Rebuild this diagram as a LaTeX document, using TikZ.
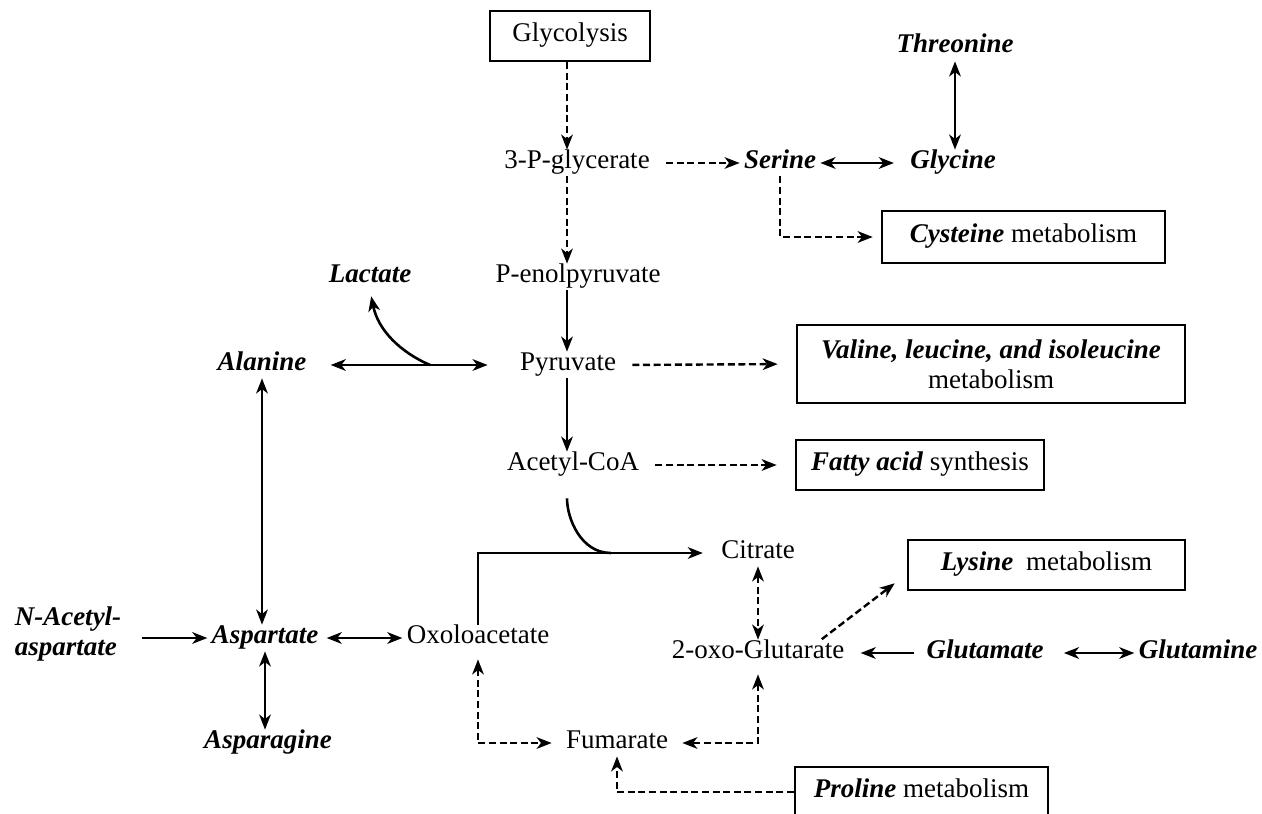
\documentclass[tikz,border=0pt]{standalone}
\usepackage{fontspec}
\setmainfont{Liberation Serif}
\usetikzlibrary{arrows.meta,calc}
\begin{document}
\begin{tikzpicture}[x=0.5pt,y=-0.5pt,
  >={Stealth[length=7.5pt,width=5.8pt,inset=2.2pt]},
  every node/.style={font=\fontsize{13.5pt}{15pt}\selectfont, text height=0.7em, text depth=0.2em, inner sep=2pt},
  aa/.style={font=\fontsize{13.5pt}{15pt}\selectfont\bfseries\itshape},
  box/.style={draw, line width=1.3pt, inner sep=0pt, align=center, text depth=0.12em},
  sol/.style={line width=1.3pt, ->},
  sol2/.style={line width=1.3pt, <->},
  dsh/.style={line width=1.2pt, dash pattern=on 3.5pt off 1.8pt, ->},
  dsh2/.style={line width=1.2pt, dash pattern=on 3.5pt off 1.8pt, <->}
]
\clip (0,0) rectangle (1262,813);
\fill[white] (0,0) rectangle (1262,813);
\coordinate (colx) at (567,0);

% main chain
\node[box, minimum width=80pt, minimum height=25pt] (glyc) at (570,36) {Glycolysis};
\node (pg3) at (577,163) {3-P-glycerate};
\node (pep) at (578,277) {P-enolpyruvate};
\node (pyr) at (568,365) {Pyruvate};
\node (acoa) at (573,465) {Acetyl-CoA};
\node (cit) at (758,553) {Citrate};
\node (oxa) at (478,638) {Oxoloacetate};
\node (akg) at (758,653) {2-oxo-Glutarate};
\node (fum) at (617,743) {Fumarate};

% amino acids
\node[aa] (ser) at (780,163) {Serine};
\node[aa] (gly) at (953,163) {Glycine};
\node[aa] (thr) at (955,48) {Threonine};
\node[aa] (lac) at (370,277) {Lactate};
\node[aa] (ala) at (262,365) {Alanine};
\node[aa] (asp) at (265,638) {Aspartate};
\node[aa, align=left, text height={}, text depth={}] (naa) at (68,634) {N-Acetyl-\\aspartate};
\node[aa] (asn) at (268,743) {Asparagine};
\node[aa] (glu) at (985,653) {Glutamate};
\node[aa] (gln) at (1198,653) {Glutamine};

% boxes
\node[box, minimum width=141.5pt, minimum height=26pt] (cys) at (1023.5,237) {\textbf{\textit{Cysteine}} metabolism};
\node[box, minimum width=194pt, minimum height=39pt, text height={}, text depth={}] (val) at (991,364) {\textbf{\textit{Valine, leucine, and isoleucine}}\\metabolism};
\node[box, minimum width=124pt, minimum height=25pt] (fat) at (920,465) {\textbf{\textit{Fatty acid}} synthesis};
\node[box, minimum width=138.5pt, minimum height=25pt] (lys) at (1046.5,565) {\textbf{\textit{Lysine}}\hspace{3pt} metabolism};
\node[box, minimum width=126.5pt, minimum height=25pt] (pro) at (921.5,792) {\textbf{\textit{Proline}} metabolism};

% connectors: main chain
\draw[dsh] (glyc.south -| colx) -- (pg3.north -| colx);
\draw[dsh] (pg3.south -| colx) -- (pep.north -| colx);
\draw[sol] (pep.south -| colx) -- (pyr.north -| colx);
\draw[sol] (pyr.south -| colx) -- (acoa.north -| colx);

% serine branch
\draw[dsh, shorten <=6pt] (pg3.east) -- (ser.west);
\draw[sol2, shorten >=6pt] (ser.east) -- (gly.west);
\draw[sol2] (thr.south) -- (thr.south |- gly.north);
\draw[dsh, shorten >=4pt] (ser.south) |- (cys.west);

% pyruvate branch
\draw[dsh, shorten <=6pt, shorten >=9pt] (pyr.east) -- (val.west);
\draw[dsh, shorten <=6pt, shorten >=9pt] (acoa.east) -- (fat.west);
\draw[sol2, shorten <=10pt, shorten >=14pt] (ala.east) -- (pyr.west);
\coordinate (lb) at (430,365);
\draw[sol, shorten >=3pt] (lb) .. controls (400,352) and (378,330) .. (lac.south);
\draw[sol2] (ala.south) -- (ala.south |- asp.north);

% aspartate
\draw[sol, shorten <=8pt] (asp.west -| naa.east) -- (asp.west);
\draw[sol2, shorten <=2pt] (asp.east) -- (oxa.west);
\draw[sol2] (asp.south) -- (asp.south |- asn.north);

% TCA
\draw[sol, shorten >=7pt] (oxa.north) |- (cit.west);
\path (cit.west) ++(-106,0) coordinate (am);
\draw[line width=1.3pt, shorten <=10pt] (acoa.south -| colx) .. controls +(0,40) and +(-30,0) .. (am);
\draw[dsh2] (cit.south) -- (cit.south |- akg.north);
\draw[dsh, shorten <=2pt] ($(akg.north east)+(-30,2)$) -- ($(lys.south west)+(-12,-8)$);
\draw[sol, shorten <=4pt, shorten >=6pt] (glu.west) -- (akg.east);
\draw[sol2, shorten <=8pt] (glu.east) -- (gln.west);
\draw[dsh2, shorten <=4pt, shorten >=5pt] (oxa.south) |- (fum.west);
\draw[dsh2, shorten <=4pt, shorten >=5pt] (akg.south) |- (fum.east);
\draw[dsh] (pro.west) -| (fum.south);
\end{tikzpicture}
\end{document}
